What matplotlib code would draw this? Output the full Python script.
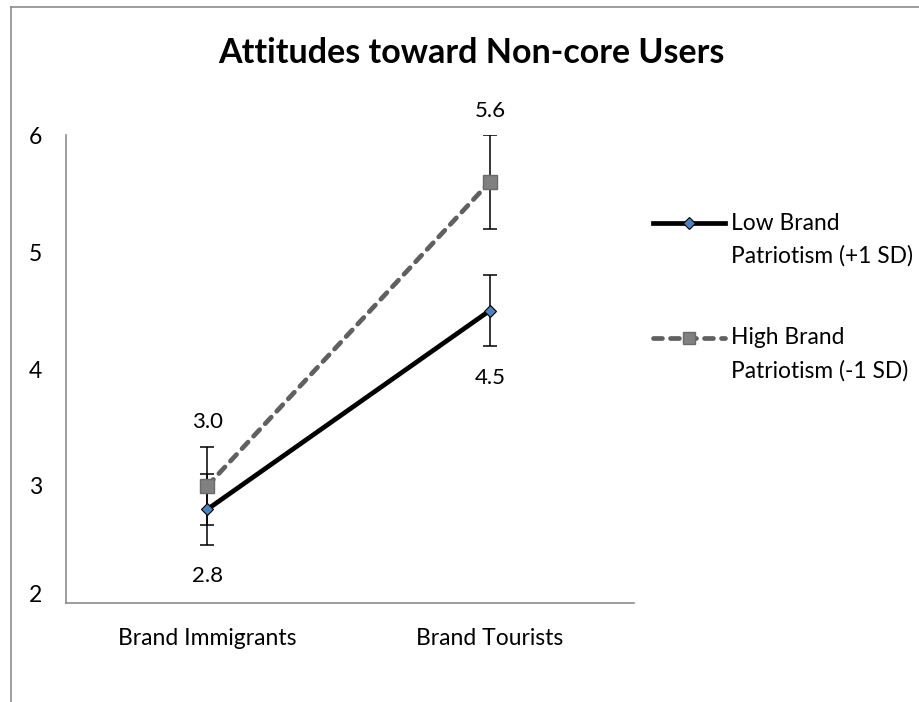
import matplotlib
matplotlib.use("Agg")
import matplotlib.pyplot as plt
from matplotlib.lines import Line2D
from matplotlib.transforms import ScaledTranslation

categories = ["Brand Immigrants", "Brand Tourists"]
low_values = [2.8, 4.5]
low_errors = [0.3, 0.3]
high_values = [3.0, 5.6]
high_errors = [0.33, 0.4]
low_label = ["Low Brand", "Patriotism (+1 SD)"]
high_label = ["High Brand", "Patriotism (-1 SD)"]
title = "Attitudes toward Non-core Users"
yticks = [2, 3, 4, 5, 6]

plt.rcParams['font.family'] = ['Lato', 'DejaVu Sans']

W, H = 920, 702
fig = plt.figure(figsize=(W/100, H/100), dpi=100)
ax = fig.add_axes([66/W, 1-603/H, (634-66)/W, (603-135)/H])

x = list(range(len(categories)))

ax.errorbar(x, high_values, yerr=high_errors, fmt='none', ecolor='black',
            elinewidth=1.1, capsize=5, capthick=1.1, zorder=2)
ax.errorbar(x, low_values, yerr=low_errors, fmt='none', ecolor='black',
            elinewidth=1.1, capsize=5, capthick=1.1, zorder=2)

high_style = dict(color='#606060', lw=3.4, ls=(0, (1.9, 1.7)), dash_capstyle='round')
high_marker = dict(marker='s', markerfacecolor='#808080', markeredgecolor='#6a6a6a',
                   markeredgewidth=1)
low_style = dict(color='black', lw=3.4)
low_marker = dict(marker='D', markerfacecolor='#4F81BD', markeredgecolor='black',
                  markeredgewidth=0.8)

ax.plot(x, high_values, markersize=9.5, zorder=3, **high_style, **high_marker)
ax.plot(x, low_values, markersize=6.5, zorder=4, **low_style, **low_marker)

# data labels (pixel offsets converted to points)
px = 0.72
for xi, v, off in zip(x, high_values, [64, 71]):
    ax.annotate(f"{v:.1f}", (xi, v), xytext=(0, off*px), textcoords='offset points',
                ha='center', va='center', fontsize=16)
for xi, v, off in zip(x, low_values, [-67, -67]):
    ax.annotate(f"{v:.1f}", (xi, v), xytext=(0, off*px), textcoords='offset points',
                ha='center', va='center', fontsize=16)

ax.set_xlim(-0.5, 1.51)
ax.set_ylim(2, 6)
ax.set_yticks(yticks)
ax.set_yticklabels([str(t) for t in yticks], fontsize=16.5)
ax.set_xticks(x)
ax.set_xticklabels(categories, fontsize=16.5)
ax.tick_params(axis='both', length=0)
ax.tick_params(axis='y', pad=17)
ax.tick_params(axis='x', pad=18)
# lowest y label sits a little above its gridline, as in the reference
lbl = ax.get_yticklabels()[0]
lbl.set_transform(lbl.get_transform() + ScaledTranslation(0, 9/100, fig.dpi_scale_trans))
for s in ['top', 'right']:
    ax.spines[s].set_visible(False)
for s in ['left', 'bottom']:
    ax.spines[s].set_color('#8c8c8c')
    ax.spines[s].set_linewidth(1.2)

fig.text(471/W, 1-53/H, title, ha='center', va='center', fontsize=24.5, fontweight='bold')

# legend (handle aligned with first text line, like the reference)
def fx(p): return p/W
def fy(p): return 1-p/H
for ypix, style, mk, ms, lab in [(223, low_style, low_marker, 6.5, low_label),
                                  (338, high_style, high_marker, 9, high_label)]:
    fig.add_artist(Line2D([fx(653), fx(725)], [fy(ypix), fy(ypix)],
                          transform=fig.transFigure, **style))
    fig.add_artist(Line2D([fx(689)], [fy(ypix)], transform=fig.transFigure,
                          markersize=ms, ls='none', **mk))
    fig.text(fx(731), fy(ypix), lab[0], ha='left', va='center', fontsize=16.4)
    fig.text(fx(731), fy(ypix+33), lab[1], ha='left', va='center', fontsize=16.4)

# chart border (left and top)
fig.add_artist(Line2D([fx(11), fx(11)], [0, fy(7)], transform=fig.transFigure,
                      color='#8c8c8c', lw=1.2))
fig.add_artist(Line2D([fx(11), 1], [fy(7), fy(7)], transform=fig.transFigure,
                      color='#8c8c8c', lw=1.2))

fig.savefig("out.png", dpi=100)
